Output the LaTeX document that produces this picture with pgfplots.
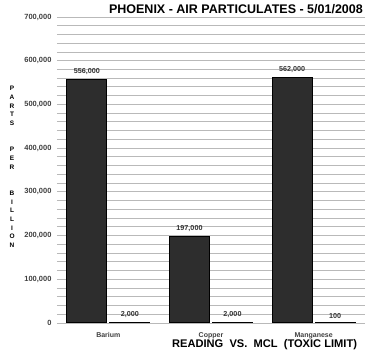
\documentclass[border=0pt]{standalone}
\usepackage{pgfplots}
\pgfplotsset{compat=1.18}
\usepackage{fontspec}
\setmainfont{Liberation Sans}
\definecolor{barfill}{RGB}{45,45,45}
\definecolor{gridc}{RGB}{185,185,185}
\begin{document}
\begin{tikzpicture}
\path[use as bounding box] (0,0) rectangle (370pt,358pt);
\begin{axis}[
  at={(57pt,35pt)}, anchor=south west,
  scale only axis, width=308pt, height=306pt,
  ybar, bar width=40pt,
  xmin=-0.5, xmax=2.5, ymin=0, ymax=700000,
  xtick={0,1,2}, xticklabels={Barium,Copper,Manganese},
  ytick distance=100000, minor y tick num=4,
  ymajorgrids, yminorgrids,
  major grid style={gridc, line width=0.9pt},
  minor grid style={gridc, line width=0.9pt},
  axis line style={draw=none},
  major tick length=0pt, minor tick length=0pt,
  scaled y ticks=false,
  /pgf/number format/.cd, fixed, 1000 sep={,}, assume math mode=true,
  /pgfplots/.cd,
  yticklabel style={font=\fontsize{7.5}{8}\selectfont\bfseries, text=black!75, xshift=-2pt},
  xticklabel style={font=\fontsize{7}{8}\selectfont\bfseries, text=black!75, yshift=-6pt},
  ylabel={P\\A\\R\\T\\S\\[18pt]P\\E\\R\\[18pt]B\\I\\L\\L\\I\\O\\N},
  ylabel style={rotate=-90, align=center, at={(axis description cs:-0.146,0.51)}, anchor=center,
    font=\fontsize{6.5}{8.6}\selectfont\bfseries},
  title={PHOENIX - AIR PARTICULATES - 5/01/2008},
  title style={at={(axis description cs:0.581,1.005)}, anchor=center, font=\fontsize{12.5}{14}\selectfont\bfseries},
  xlabel={READING\ \ VS.\ \ MCL\ \ (TOXIC LIMIT)},
  xlabel style={at={(axis description cs:0.674,-0.07)}, anchor=center, font=\fontsize{11.1}{12}\selectfont\bfseries},
  clip=false,
  nodes near coords={\pgfmathprintnumber[fixed,1000 sep={,},assume math mode=true]{\pgfplotspointmeta}},
  nodes near coords style={font=\fontsize{7.2}{8}\selectfont\bfseries, text=black!80, yshift=1pt},
]
\addplot[bar shift=-21.5pt, fill=barfill, draw=black, line width=1pt]
  coordinates {(0,556000) (1,197000) (2,562000)};
\addplot[bar shift=21.5pt, fill=black, draw=black, line width=1pt]
  coordinates {(0,2000) (1,2000) (2,100)};
\end{axis}
\end{tikzpicture}
\end{document}
